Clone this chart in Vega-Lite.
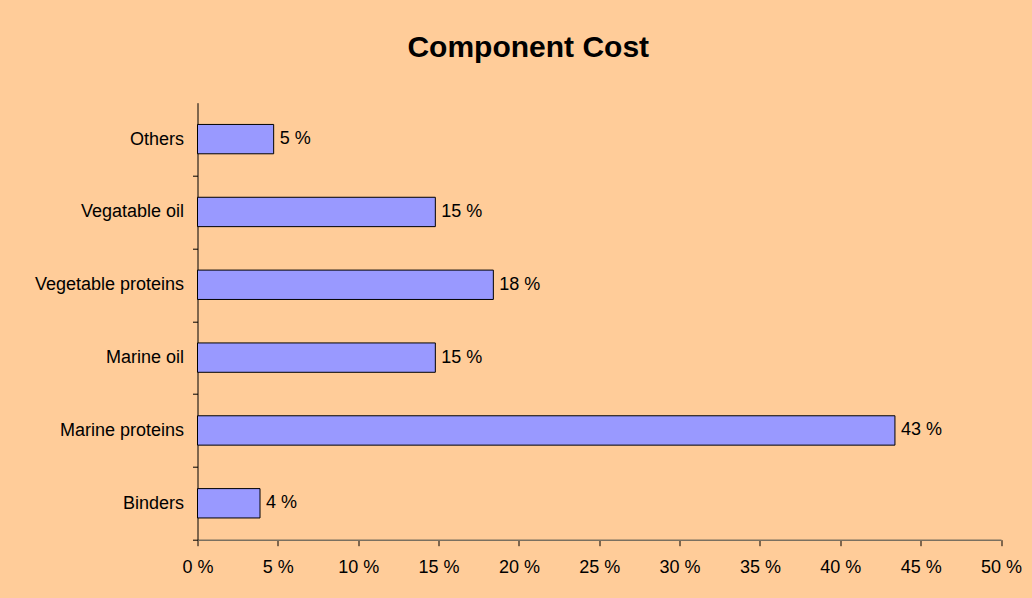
{
  "$schema": "https://vega.github.io/schema/vega-lite/v6.json",
  "width": 803.5,
  "height": 437,
  "autosize": {"type": "none"},
  "padding": {"left": 197.5, "top": 102.7, "right": 31, "bottom": 58.3},
  "background": "#FFCC99",
  "title": {
    "text": "Component Cost",
    "fontSize": 30,
    "font": "Liberation Sans",
    "fontWeight": "bold",
    "color": "#000000",
    "anchor": "middle",
    "frame": "group",
    "dx": -71,
    "offset": 40
  },
  "data": {
    "values": [
      {"component": "Others", "cost": 4.74, "label": "5 %"},
      {"component": "Vegatable oil", "cost": 14.8, "label": "15 %"},
      {"component": "Vegetable proteins", "cost": 18.41, "label": "18 %"},
      {"component": "Marine oil", "cost": 14.8, "label": "15 %"},
      {"component": "Marine proteins", "cost": 43.4, "label": "43 %"},
      {"component": "Binders", "cost": 3.89, "label": "4 %"}
    ]
  },
  "encoding": {
    "y": {
      "field": "component",
      "type": "nominal",
      "sort": ["Others", "Vegatable oil", "Vegetable proteins", "Marine oil", "Marine proteins", "Binders"],
      "scale": {"paddingInner": 0.597, "paddingOuter": 0.2985},
      "axis": {
        "title": null,
        "tickBand": "center",
        "tickOffset": 36.5,
        "labelOffset": -36.5,
        "tickSize": 5,
        "tickColor": "#000000",
        "domainColor": "#000000",
        "labelPadding": 9,
        "labelFontSize": 18,
        "labelFont": "Liberation Sans",
        "labelColor": "#000000",
        "labelLimit": 300
      }
    },
    "x": {
      "field": "cost",
      "type": "quantitative",
      "scale": {"domain": [0, 50], "nice": false},
      "axis": {
        "title": null,
        "values": [0, 5, 10, 15, 20, 25, 30, 35, 40, 45, 50],
        "labelExpr": "datum.value + ' %'",
        "grid": false,
        "tickSize": 6,
        "tickColor": "#000000",
        "domainColor": "#7a7060",
        "domainWidth": 1.5,
        "labelPadding": 13,
        "labelFontSize": 18,
        "labelFont": "Liberation Sans",
        "labelColor": "#000000",
        "labelFlush": false
      }
    }
  },
  "layer": [
    {
      "mark": {"type": "bar", "color": "#9999FF", "stroke": "#000000", "strokeWidth": 1}
    },
    {
      "mark": {"type": "text", "align": "left", "baseline": "middle", "dx": 6, "fontSize": 18, "font": "Liberation Sans", "color": "#000000"},
      "encoding": {"text": {"field": "label"}}
    }
  ],
  "config": {"view": {"stroke": null}}
}
